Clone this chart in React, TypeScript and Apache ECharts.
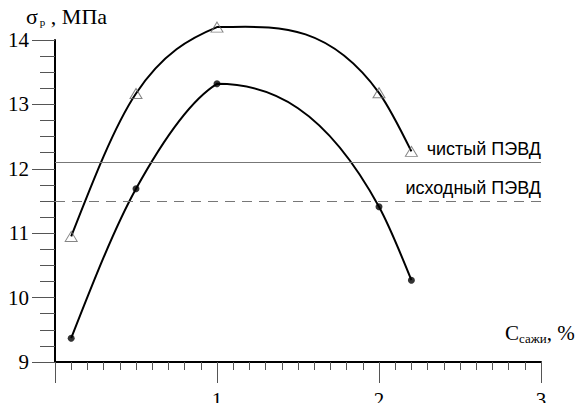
import React, { useEffect, useRef } from "react";
import * as echarts from "echarts";

const xValues = [0.1, 0.5, 1.0, 2.0, 2.2];
const cleanPE = [10.95, 13.17, 14.2, 13.18, 12.27];
const basePE = [9.37, 11.69, 13.32, 11.41, 10.27];
const refLines = [
  { value: 12.1, label: "чистый ПЭВД", type: "solid" },
  { value: 11.5, label: "исходный ПЭВД", type: "dashed" },
];

// Hermite curve through pixel points (flat departure at extrema)
function curvePath(pts: number[][]): string {
  const n = pts.length;
  const h: number[] = [];
  const d: number[] = [];
  for (let i = 0; i < n - 1; i++) {
    h.push(pts[i + 1][0] - pts[i][0]);
    d.push((pts[i + 1][1] - pts[i][1]) / h[i]);
  }
  const mIn = new Array(n).fill(0);
  const mOut = new Array(n).fill(0);
  for (let i = 1; i < n - 1; i++) {
    const para = (h[i] * d[i - 1] + h[i - 1] * d[i]) / (h[i - 1] + h[i]);
    let m = para;
    if (d[i - 1] * d[i] > 0) {
      const harm = (3 * (h[i - 1] + h[i])) / ((2 * h[i] + h[i - 1]) / d[i - 1] + (h[i] + 2 * h[i - 1]) / d[i]);
      m = 0.75 * para + 0.25 * harm;
    }
    mIn[i] = m;
    mOut[i] = d[i - 1] * d[i] < 0 ? 0 : m;
  }
  mOut[0] = (3 * d[0] - mIn[1]) / 2;
  mIn[n - 1] = (3 * d[n - 2] - mOut[n - 2]) / 2;
  let path = `M${pts[0][0]},${pts[0][1]}`;
  for (let i = 0; i < n - 1; i++) {
    const k = h[i] / 3;
    const c1x = pts[i][0] + k, c1y = pts[i][1] + mOut[i] * k;
    const c2x = pts[i + 1][0] - k, c2y = pts[i + 1][1] - mIn[i + 1] * k;
    path += ` C${c1x},${c1y} ${c2x},${c2y} ${pts[i + 1][0]},${pts[i + 1][1]}`;
  }
  return path;
}

function curveSeries(values: number[]) {
  return {
    type: "custom",
    data: xValues.map((x, i) => [x, values[i]]),
    clip: false,
    z: 2,
    silent: true,
    renderItem: (params: any, api: any) => {
      if (params.dataIndex !== 0) return null;
      const pts = xValues.map((x, i) => api.coord([x, values[i]]));
      return {
        type: "path",
        shape: { pathData: curvePath(pts) },
        style: { fill: "none", stroke: "#000", lineWidth: 2 },
      };
    },
  };
}

export default function App() {
  const ref = useRef<HTMLDivElement>(null);
  useEffect(() => {
    if (!ref.current) return;
    const chart = echarts.init(ref.current, undefined, { renderer: "svg" });
    const serif = "Liberation Serif";
    const sans = "Liberation Sans";
    chart.setOption({
      animation: false,
      backgroundColor: "#fff",
      grid: { left: 55, right: 38, top: 40, bottom: 41, containLabel: false, outerBoundsMode: "none" },
      xAxis: {
        type: "value",
        min: 0,
        max: 3,
        interval: 1,
        axisLine: { show: true, onZero: false, lineStyle: { color: "#000", width: 2 } },
        axisTick: { show: true, length: 21, lineStyle: { color: "#555", width: 1 } },
        minorTick: { show: true, splitNumber: 10, length: 8, lineStyle: { color: "#555", width: 1 } },
        splitLine: { show: false },
        axisLabel: {
          margin: 27,
          fontFamily: serif,
          fontSize: 21,
          color: "#000",
          formatter: (v: number) => (v === 0 ? "" : String(v)),
        },
      },
      yAxis: {
        type: "value",
        min: 9,
        max: 14,
        interval: 1,
        axisLine: { show: true, onZero: false, lineStyle: { color: "#000", width: 2 } },
        axisTick: { show: true, length: 23, lineStyle: { color: "#555", width: 1 } },
        minorTick: { show: true, splitNumber: 4, length: 15, lineStyle: { color: "#555", width: 1 } },
        splitLine: { show: false },
        axisLabel: {
          margin: 26,
          fontFamily: serif,
          fontSize: 21,
          color: "#000",
        },
      },
      graphic: [
        {
          type: "text",
          left: 26,
          top: 5,
          style: {
            text: "{a|σ}{s|р}{a| , МПа}",
            rich: {
              a: { fontFamily: serif, fontSize: 22, fill: "#000" },
              s: { fontFamily: serif, fontSize: 11, fill: "#000", padding: [12, 0, 0, 2] },
            },
          },
        },
        {
          type: "text",
          left: 505,
          top: 322,
          style: {
            text: "{a|C}{s|сажи}{a|, %}",
            rich: {
              a: { fontFamily: serif, fontSize: 21, fill: "#000" },
              s: { fontFamily: serif, fontSize: 13, fill: "#000", padding: [11, 0, 0, 0] },
            },
          },
        },
      ],
      series: [
        curveSeries(cleanPE),
        curveSeries(basePE),
        {
          type: "scatter",
          data: xValues.map((x, i) => [x, cleanPE[i]]),
          symbol: "triangle",
          symbolSize: [12, 10],
          clip: false,
          itemStyle: { color: "rgba(255,255,255,0)", borderColor: "#666", borderWidth: 1 },
          z: 3,
          markLine: {
            silent: true,
            symbol: "none",
            data: refLines.map((r) => ({
              yAxis: r.value,
              lineStyle: { color: "#777", width: 1, type: r.type === "dashed" ? [10, 7] : "solid" },
              label: {
                show: true,
                position: "insideEndTop",
                formatter: r.label,
                fontFamily: sans,
                fontSize: 18,
                color: "#000",
                distance: [0, 4],
              },
            })),
          },
        },
        {
          type: "scatter",
          data: xValues.map((x, i) => [x, basePE[i]]),
          symbol: "circle",
          symbolSize: 7,
          clip: false,
          itemStyle: { color: "#000" },
          z: 3,
        },
      ],
    });
    return () => chart.dispose();
  }, []);
  return <div ref={ref} style={{ width: 579, height: 403, position: "absolute", left: 0, top: 0 }} />;
}
